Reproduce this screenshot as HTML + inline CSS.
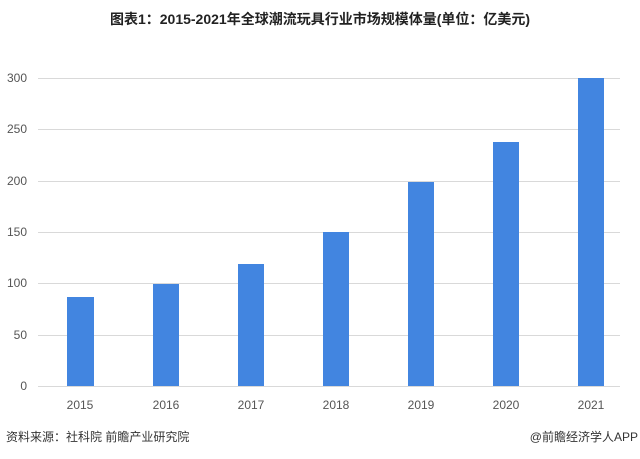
<!DOCTYPE html>
<html><head><meta charset="utf-8"><style>
html,body{margin:0;padding:0;background:#fff;}
body{width:640px;height:459px;overflow:hidden;position:relative;font-family:"Liberation Sans","Noto Sans CJK SC",sans-serif;}
</style></head><body>
<svg width="640" height="459" xmlns="http://www.w3.org/2000/svg" style="position:absolute;left:0;top:0">
<text x="320" y="24" text-anchor="middle" font-family="Liberation Sans, Noto Sans CJK SC, sans-serif" font-size="14" font-weight="bold" fill="#222">图表1：2015-2021年全球潮流玩具行业市场规模体量(单位：亿美元)</text>
<g stroke="#d9d9d9" stroke-width="1">
<line x1="38" x2="620" y1="78.5" y2="78.5"/>
<line x1="38" x2="620" y1="129.5" y2="129.5"/>
<line x1="38" x2="620" y1="181.5" y2="181.5"/>
<line x1="38" x2="620" y1="232.5" y2="232.5"/>
<line x1="38" x2="620" y1="283.5" y2="283.5"/>
<line x1="38" x2="620" y1="335.5" y2="335.5"/>
<line x1="38" x2="620" y1="386.5" y2="386.5"/>
</g>
<g font-family="Liberation Sans, sans-serif" font-size="12" fill="#555" text-anchor="end">
<text x="27" y="82">300</text><text x="27" y="133">250</text><text x="27" y="185">200</text>
<text x="27" y="236">150</text><text x="27" y="287">100</text><text x="27" y="339">50</text><text x="27" y="390">0</text>
</g>
<g fill="#4285e0">
<rect x="67" y="297" width="27" height="89"/>
<rect x="153" y="284" width="26" height="102"/>
<rect x="238" y="264" width="26" height="122"/>
<rect x="323" y="232" width="26" height="154"/>
<rect x="408" y="182" width="26" height="204"/>
<rect x="493" y="142" width="26" height="244"/>
<rect x="578" y="78" width="26" height="308"/>
</g>
<g font-family="Liberation Sans, sans-serif" font-size="12" fill="#555" text-anchor="middle">
<text x="80" y="409">2015</text><text x="166" y="409">2016</text><text x="251" y="409">2017</text>
<text x="336" y="409">2018</text><text x="421" y="409">2019</text><text x="506" y="409">2020</text><text x="591" y="409">2021</text>
</g>
<text x="6" y="441" font-family="Liberation Sans, Noto Sans CJK SC, sans-serif" font-size="12" fill="#333">资料来源：社科院 前瞻产业研究院</text>
<text x="638" y="441" text-anchor="end" font-family="Liberation Sans, Noto Sans CJK SC, sans-serif" font-size="12" fill="#333">@前瞻经济学人APP</text>
</svg>
</body></html>
